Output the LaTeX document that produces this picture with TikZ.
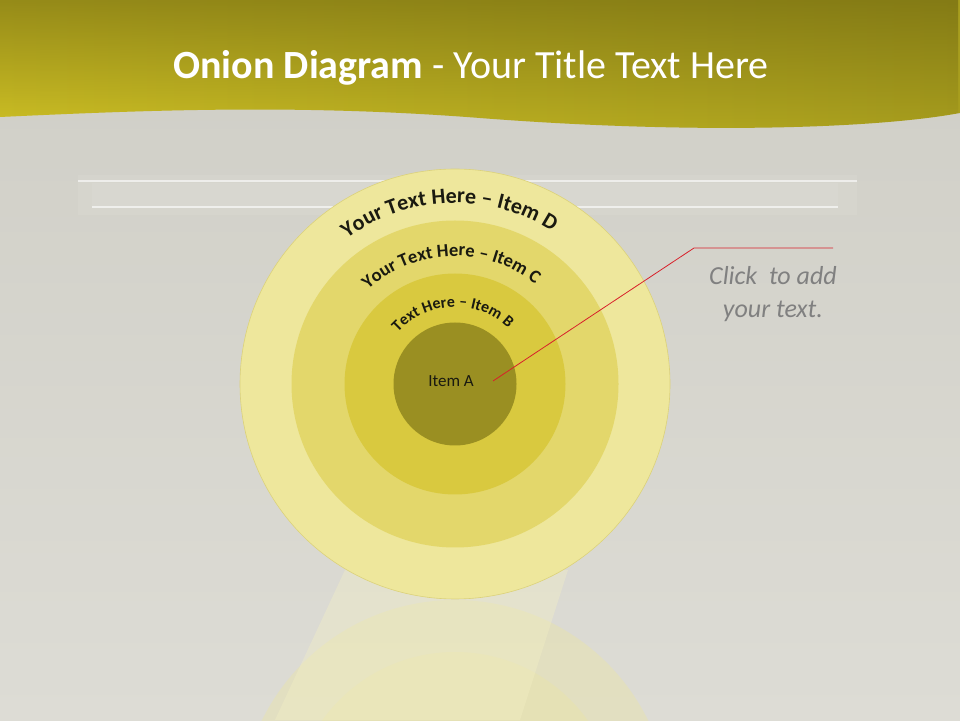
\documentclass[tikz,border=0pt]{standalone}
\usepackage{fontspec}
\setmainfont{Carlito}
\usetikzlibrary{decorations.text,fadings}
\definecolor{bgtop}{HTML}{CFCEC6}
\definecolor{bgbot}{HTML}{DDDCD5}
\definecolor{hdrBL}{HTML}{D0C225}
\definecolor{hdrBR}{HTML}{A89E1E}
\definecolor{hdrshade}{HTML}{665E0E}
\definecolor{ringD}{HTML}{EEE79C}
\definecolor{ringC}{HTML}{E3D76B}
\definecolor{ringB}{HTML}{D9C93F}
\definecolor{ringA}{HTML}{9A8F22}
\definecolor{ringedge}{HTML}{DCD27A}
\definecolor{calloutred}{HTML}{D8202A}
\definecolor{hint}{HTML}{808080}
\definecolor{ink}{HTML}{1A1A10}
\tikzset{
  ring/.style={circle, inner sep=0pt, outer sep=0pt, minimum size=#1},
  arctext/.style={decorate, decoration={text along path, text align=center, text color=ink, text={#1}}},
}
\begin{document}
\begin{tikzpicture}[x=1pt,y=1pt]
\useasboundingbox (0,0) rectangle (960,720);
% background
\shade[top color=bgtop, bottom color=bgbot] (0,0) rectangle (960,720);
% glass bar
\fill[white, opacity=0.07] (78,505) rectangle (857,545);
\fill[white, opacity=0.07] (92,512) rectangle (838,537);
\draw[white, opacity=0.6, line width=1.2pt] (78,539) -- (857,539);
\draw[white, opacity=0.6, line width=1.2pt] (92,513) -- (838,513);
% header
\def\hdrpath{(0,720) -- (960,720) -- (960,607)
  .. controls (880,592) and (700,585) .. (480,602)
  .. controls (300,616) and (150,610) .. (0,603) -- cycle}
\shade[left color=hdrBL, right color=hdrBR] \hdrpath;
\fill[hdrshade, path fading=south, opacity=0.55] \hdrpath;
\node[text=white, font=\fontsize{40}{46}\selectfont] (title) at (471,652)
  {\bfseries Onion Diagram\mdseries{} - Your Title Text Here};
% reflection
\begin{scope}
\clip (0,0) rectangle (960,720);
\fill[ringD, opacity=0.35] (455,-95) circle[radius=215];
\fill[ringD, opacity=0.30] (455,-95) circle[radius=163];
\fill[white!40!ringD, opacity=0.35] (345,150) -- (568,150) -- (520,0) -- (275,0) -- cycle;
\end{scope}
% rings
\coordinate (c) at (455,336);
\node[ring=430pt, fill=ringD, draw=ringedge, line width=0.6pt] (ringD) at (c) {};
\node[ring=327pt, fill=ringC] (ringC) at (c) {};
\node[ring=221pt, fill=ringB] (ringB) at (c) {};
\node[ring=123pt, fill=ringA] (ringA) at (c) {};
% curved labels
\path[arctext={|\fontsize{22}{22}\selectfont\bfseries|Your Text Here – Item D}]
  (c) ++(172:181) arc[start angle=172, end angle=12, radius=181];
\path[arctext={|\fontsize{18.5}{18.5}\selectfont\bfseries|Your Text Here – Item C}]
  (c) ++(172:128) arc[start angle=172, end angle=12, radius=128];
\path[arctext={|\fontsize{16}{16}\selectfont\bfseries|Text Here – Item B}]
  (c) ++(172:77) arc[start angle=172, end angle=12, radius=77];
\node[text=ink, font=\fontsize{17}{17}\selectfont] (itemA) at (451,339) {Item A};
% callout
\coordinate (cstart) at (493,339);
\coordinate (cbend) at (694,472);
\coordinate (cend) at (833,472);
\draw[calloutred, line width=0.8pt] (cstart) -- (cbend) -- (cend);
\node[text=hint, align=center, font=\fontsize{26}{33}\selectfont\itshape] (hinttext) at (773,426)
  {Click~ to add\\your text.};
\end{tikzpicture}
\end{document}
